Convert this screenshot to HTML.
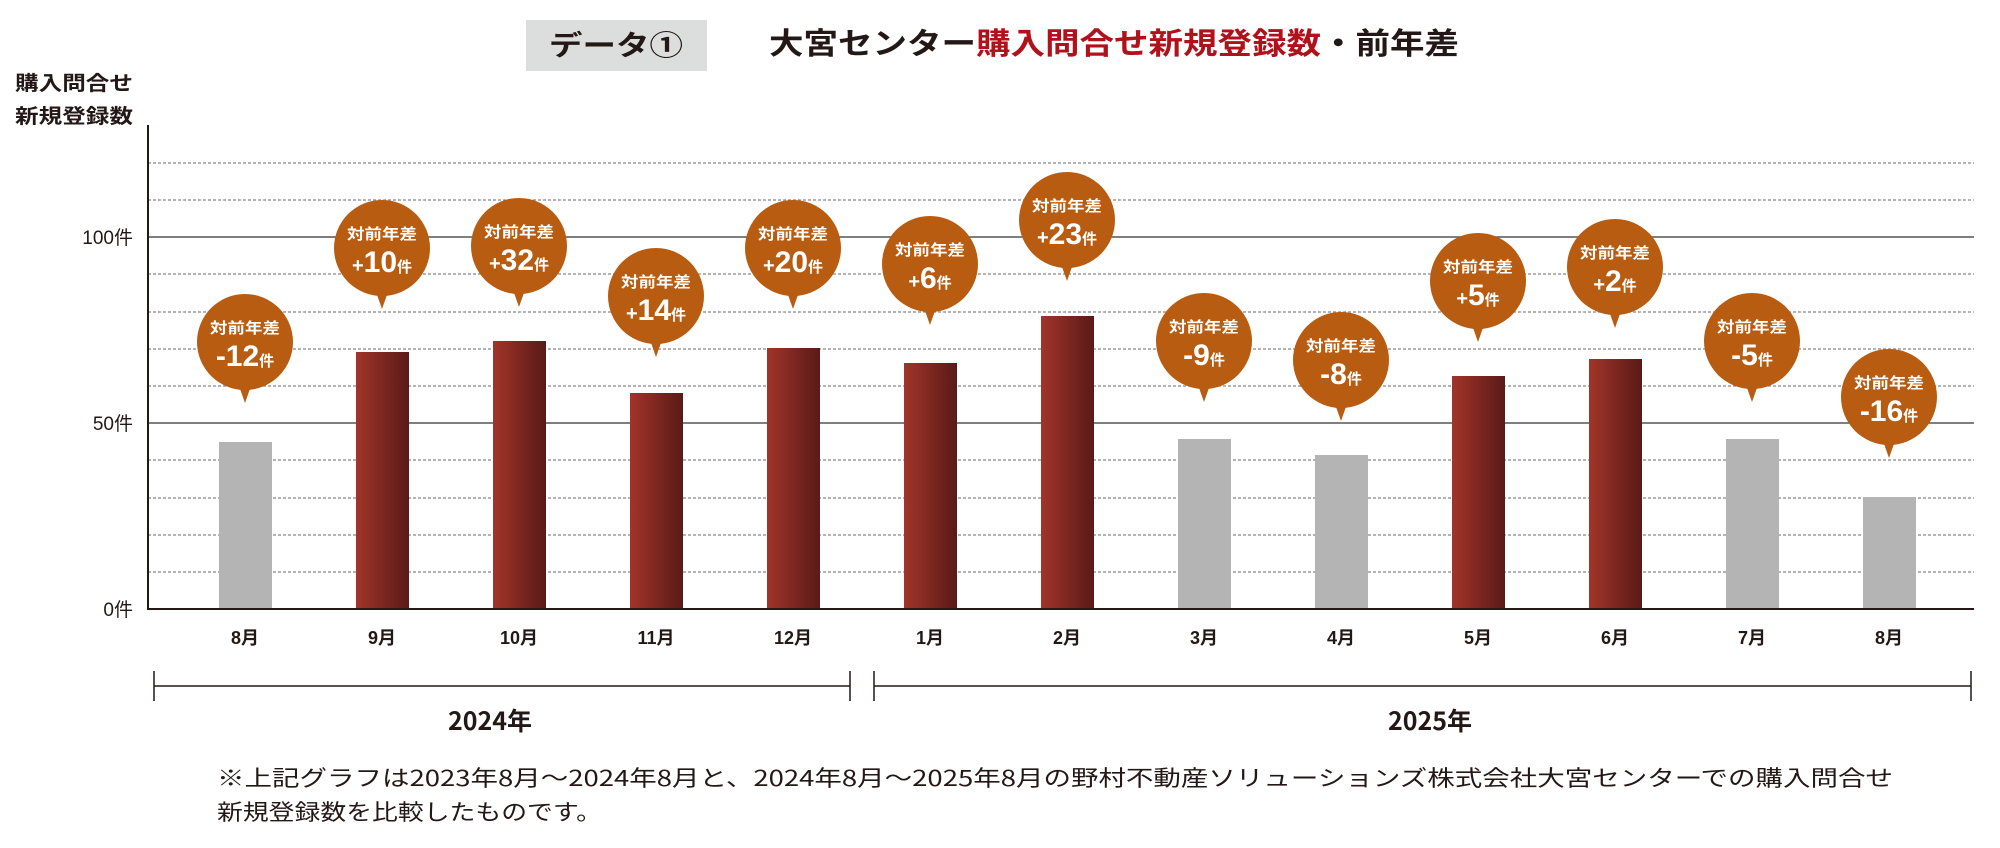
<!DOCTYPE html>
<html><head><meta charset="utf-8"><style>
html,body{margin:0;padding:0;background:#fff;}
svg{display:block;}
text{font-family:"Liberation Sans","Noto Sans CJK JP",sans-serif;}
.j{font-family:"Noto Sans CJK JP","Liberation Sans",sans-serif;}
</style></head><body>
<svg width="2000" height="848" viewBox="0 0 2000 848" xmlns="http://www.w3.org/2000/svg">
<defs>
<linearGradient id="rg" x1="0" x2="1" y1="0" y2="0">
<stop offset="0" stop-color="#a2342a"/><stop offset="1" stop-color="#5a1a17"/>
</linearGradient>
</defs>
<!-- title -->
<rect x="526" y="20" width="181" height="51" fill="#dcdedd"/>
<text x="616" y="55" class="j" font-size="28" font-weight="bold" fill="#231815" text-anchor="middle" textLength="134" lengthAdjust="spacingAndGlyphs">データ①</text>
<text x="769" y="54" class="j" font-size="30" font-weight="bold" fill="#231815" textLength="690" lengthAdjust="spacingAndGlyphs">大宮センター<tspan fill="#b0121b">購入問合せ新規登録数</tspan>・前年差</text>
<!-- y title -->
<text x="15" y="90" class="j" font-size="20" font-weight="bold" fill="#231815" textLength="118" lengthAdjust="spacingAndGlyphs">購入問合せ</text>
<text x="15" y="123" class="j" font-size="20" font-weight="bold" fill="#231815" textLength="118" lengthAdjust="spacingAndGlyphs">新規登録数</text>
<!-- gridlines -->
<g stroke="#888" stroke-width="1.2" stroke-dasharray="3,2">
<line x1="148" x2="1974" y1="572" y2="572"/><line x1="148" x2="1974" y1="535" y2="535"/>
<line x1="148" x2="1974" y1="498" y2="498"/><line x1="148" x2="1974" y1="460" y2="460"/>
<line x1="148" x2="1974" y1="386" y2="386"/><line x1="148" x2="1974" y1="349" y2="349"/>
<line x1="148" x2="1974" y1="312" y2="312"/><line x1="148" x2="1974" y1="274" y2="274"/>
<line x1="148" x2="1974" y1="200" y2="200"/><line x1="148" x2="1974" y1="163" y2="163"/>
</g>
<g stroke="#555" stroke-width="1.5">
<line x1="148" x2="1974" y1="237" y2="237"/><line x1="148" x2="1974" y1="423" y2="423"/>
</g>
<g font-size="19" fill="#231815" text-anchor="end" class="j">
<text x="133" y="244">100件</text><text x="133" y="430">50件</text><text x="133" y="616">0件</text>
</g>
<!-- bars -->
<g>
<rect x="219" y="442" width="53" height="167" fill="#b4b4b4"/>
<rect x="356" y="352" width="53" height="257" fill="url(#rg)"/>
<rect x="493" y="341" width="53" height="268" fill="url(#rg)"/>
<rect x="630" y="393" width="53" height="216" fill="url(#rg)"/>
<rect x="767" y="348" width="53" height="261" fill="url(#rg)"/>
<rect x="904" y="363" width="53" height="246" fill="url(#rg)"/>
<rect x="1041" y="316" width="53" height="293" fill="url(#rg)"/>
<rect x="1178" y="439" width="53" height="170" fill="#b4b4b4"/>
<rect x="1315" y="455" width="53" height="154" fill="#b4b4b4"/>
<rect x="1452" y="376" width="53" height="233" fill="url(#rg)"/>
<rect x="1589" y="359" width="53" height="250" fill="url(#rg)"/>
<rect x="1726" y="439" width="53" height="170" fill="#b4b4b4"/>
<rect x="1863" y="497" width="53" height="112" fill="#b4b4b4"/>
</g>
<!-- axes -->
<line x1="148" y1="125" x2="148" y2="610" stroke="#231815" stroke-width="2"/>
<line x1="147" y1="609" x2="1974" y2="609" stroke="#231815" stroke-width="2"/>
<!-- months -->
<g font-size="18" font-weight="bold" fill="#231815" text-anchor="middle" class="j">
<text x="245" y="644">8月</text><text x="382" y="644">9月</text><text x="519" y="644">10月</text>
<text x="656" y="644">11月</text><text x="793" y="644">12月</text><text x="930" y="644">1月</text>
<text x="1067" y="644">2月</text><text x="1204" y="644">3月</text><text x="1341" y="644">4月</text>
<text x="1478" y="644">5月</text><text x="1615" y="644">6月</text><text x="1752" y="644">7月</text>
<text x="1889" y="644">8月</text>
</g>
<!-- brackets -->
<g stroke="#231815" stroke-width="1.5">
<line x1="154" x2="850" y1="686" y2="686"/><line x1="154" x2="154" y1="671" y2="701"/><line x1="850" x2="850" y1="671" y2="701"/>
<line x1="874" x2="1971" y1="686" y2="686"/><line x1="874" x2="874" y1="671" y2="701"/><line x1="1971" x2="1971" y1="671" y2="701"/>
</g>
<text x="490" y="730" font-size="25" font-weight="bold" fill="#231815" text-anchor="middle" class="j">2024年</text>
<text x="1430" y="730" font-size="25" font-weight="bold" fill="#231815" text-anchor="middle" class="j">2025年</text>
<!-- footnote -->
<text x="217" y="786" class="j" font-size="22" fill="#231815" textLength="1676" lengthAdjust="spacingAndGlyphs">※上記グラフは2023年8月～2024年8月と、2024年8月～2025年8月の野村不動産ソリューションズ株式会社大宮センターでの購入問合せ</text>
<text x="217" y="820" class="j" font-size="22" fill="#231815" textLength="385" lengthAdjust="spacingAndGlyphs">新規登録数を比較したものです。</text>
<!-- bubbles -->
<g fill="#b85c12">
<g transform="translate(245,342)"><ellipse rx="48" ry="48"/><path d="M-6,44 L0,61 L6,44Z"/></g>
<g transform="translate(382,248)"><ellipse rx="48" ry="48"/><path d="M-6,44 L0,61 L6,44Z"/></g>
<g transform="translate(519,246)"><ellipse rx="48" ry="48"/><path d="M-6,44 L0,61 L6,44Z"/></g>
<g transform="translate(656,296)"><ellipse rx="48" ry="48"/><path d="M-6,44 L0,61 L6,44Z"/></g>
<g transform="translate(793,248)"><ellipse rx="48" ry="48"/><path d="M-6,44 L0,61 L6,44Z"/></g>
<g transform="translate(930,264)"><ellipse rx="48" ry="48"/><path d="M-6,44 L0,61 L6,44Z"/></g>
<g transform="translate(1067,220)"><ellipse rx="48" ry="48"/><path d="M-6,44 L0,61 L6,44Z"/></g>
<g transform="translate(1204,341)"><ellipse rx="48" ry="48"/><path d="M-6,44 L0,61 L6,44Z"/></g>
<g transform="translate(1341,360)"><ellipse rx="48" ry="48"/><path d="M-6,44 L0,61 L6,44Z"/></g>
<g transform="translate(1478,281)"><ellipse rx="48" ry="48"/><path d="M-6,44 L0,61 L6,44Z"/></g>
<g transform="translate(1615,267)"><ellipse rx="48" ry="48"/><path d="M-6,44 L0,61 L6,44Z"/></g>
<g transform="translate(1752,341)"><ellipse rx="48" ry="48"/><path d="M-6,44 L0,61 L6,44Z"/></g>
<g transform="translate(1889,397)"><ellipse rx="48" ry="48"/><path d="M-6,44 L0,61 L6,44Z"/></g>
</g>
<g fill="#fff" font-weight="bold" text-anchor="middle" class="j">
<g transform="translate(245,342)"><text y="-9" font-size="15" textLength="70" lengthAdjust="spacingAndGlyphs">対前年差</text><text y="24" font-size="30" font-family="Liberation Sans">-12<tspan font-size="15" class="j">件</tspan></text></g>
<g transform="translate(382,248)"><text y="-9" font-size="15" textLength="70" lengthAdjust="spacingAndGlyphs">対前年差</text><text y="24" font-size="30" font-family="Liberation Sans"><tspan font-size="20">+</tspan>10<tspan font-size="15" class="j">件</tspan></text></g>
<g transform="translate(519,246)"><text y="-9" font-size="15" textLength="70" lengthAdjust="spacingAndGlyphs">対前年差</text><text y="24" font-size="30" font-family="Liberation Sans"><tspan font-size="20">+</tspan>32<tspan font-size="15" class="j">件</tspan></text></g>
<g transform="translate(656,296)"><text y="-9" font-size="15" textLength="70" lengthAdjust="spacingAndGlyphs">対前年差</text><text y="24" font-size="30" font-family="Liberation Sans"><tspan font-size="20">+</tspan>14<tspan font-size="15" class="j">件</tspan></text></g>
<g transform="translate(793,248)"><text y="-9" font-size="15" textLength="70" lengthAdjust="spacingAndGlyphs">対前年差</text><text y="24" font-size="30" font-family="Liberation Sans"><tspan font-size="20">+</tspan>20<tspan font-size="15" class="j">件</tspan></text></g>
<g transform="translate(930,264)"><text y="-9" font-size="15" textLength="70" lengthAdjust="spacingAndGlyphs">対前年差</text><text y="24" font-size="30" font-family="Liberation Sans"><tspan font-size="20">+</tspan>6<tspan font-size="15" class="j">件</tspan></text></g>
<g transform="translate(1067,220)"><text y="-9" font-size="15" textLength="70" lengthAdjust="spacingAndGlyphs">対前年差</text><text y="24" font-size="30" font-family="Liberation Sans"><tspan font-size="20">+</tspan>23<tspan font-size="15" class="j">件</tspan></text></g>
<g transform="translate(1204,341)"><text y="-9" font-size="15" textLength="70" lengthAdjust="spacingAndGlyphs">対前年差</text><text y="24" font-size="30" font-family="Liberation Sans">-9<tspan font-size="15" class="j">件</tspan></text></g>
<g transform="translate(1341,360)"><text y="-9" font-size="15" textLength="70" lengthAdjust="spacingAndGlyphs">対前年差</text><text y="24" font-size="30" font-family="Liberation Sans">-8<tspan font-size="15" class="j">件</tspan></text></g>
<g transform="translate(1478,281)"><text y="-9" font-size="15" textLength="70" lengthAdjust="spacingAndGlyphs">対前年差</text><text y="24" font-size="30" font-family="Liberation Sans"><tspan font-size="20">+</tspan>5<tspan font-size="15" class="j">件</tspan></text></g>
<g transform="translate(1615,267)"><text y="-9" font-size="15" textLength="70" lengthAdjust="spacingAndGlyphs">対前年差</text><text y="24" font-size="30" font-family="Liberation Sans"><tspan font-size="20">+</tspan>2<tspan font-size="15" class="j">件</tspan></text></g>
<g transform="translate(1752,341)"><text y="-9" font-size="15" textLength="70" lengthAdjust="spacingAndGlyphs">対前年差</text><text y="24" font-size="30" font-family="Liberation Sans">-5<tspan font-size="15" class="j">件</tspan></text></g>
<g transform="translate(1889,397)"><text y="-9" font-size="15" textLength="70" lengthAdjust="spacingAndGlyphs">対前年差</text><text y="24" font-size="30" font-family="Liberation Sans">-16<tspan font-size="15" class="j">件</tspan></text></g>
</g>
</svg>
</body></html>
